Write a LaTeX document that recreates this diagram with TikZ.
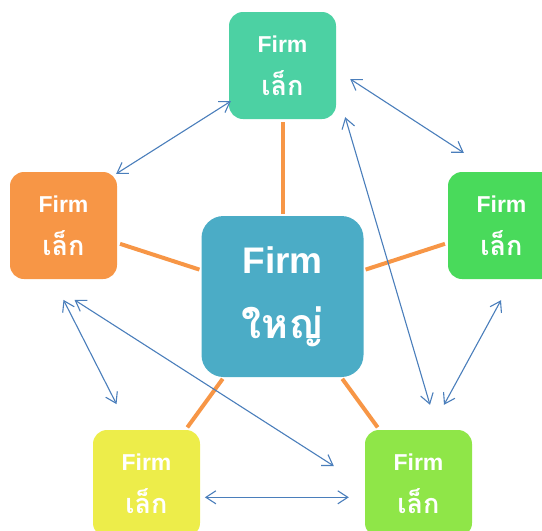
\documentclass[tikz,border=0pt]{standalone}
\usepackage{fontspec}
\setmainfont{Liberation Sans}
\newfontfamily\thaifont[Script=Thai]{Loma}
\usepackage{xcolor}
\usetikzlibrary{arrows.meta}
\definecolor{firmteal}{HTML}{4CD1A3}
\definecolor{firmorange}{HTML}{F79646}
\definecolor{firmgreen}{HTML}{49DA5B}
\definecolor{firmyellow}{HTML}{EDED4A}
\definecolor{firmlime}{HTML}{8FE648}
\definecolor{firmblue}{HTML}{4BACC6}
\definecolor{linkblue}{HTML}{4A7EBB}
\newcommand\smallthai[1]{{\thaifont\fontsize{27}{43}\selectfont #1}}
\newcommand\bigthai[1]{{\thaifont\fontsize{41}{65}\selectfont #1}}
\tikzset{>={Straight Barb[length=10pt,width=13pt]},
  firm/.style={rounded corners=14pt, minimum width=107pt, minimum height=107pt,
    inner sep=0pt, text=white, align=center, font=\fontsize{23}{43}\selectfont\bfseries},
  bigfirm/.style={firm, rounded corners=22pt, minimum width=162pt, minimum height=161pt,
    font=\fontsize{37}{65}\selectfont\bfseries},
  spoke/.style={draw=firmorange, line width=4pt, shorten <=3pt, shorten >=2pt},
  link/.style={draw=linkblue, line width=1.1pt, <->}}

\begin{document}
\begin{tikzpicture}[x=1pt, y=-1pt]
\useasboundingbox (0,0) rectangle (542,531);
\clip (0,0) rectangle (542,531);
\node[bigfirm, fill=firmblue] (firmC) at (282.5,296.5) {Firm\\\bigthai{ใหญ่}};
\node[firm, fill=firmteal] (firmT) at (282.5,65.5) {Firm\\\smallthai{เล็ก}};
\node[firm, fill=firmorange] (firmL) at (63.5,225.5) {Firm\\\smallthai{เล็ก}};
\node[firm, fill=firmgreen] (firmR) at (501.5,225.5) {Firm\\\smallthai{เล็ก}};
\node[firm, fill=firmyellow] (firmBL) at (146.5,483.5) {Firm\\\smallthai{เล็ก}};
\node[firm, fill=firmlime] (firmBR) at (418.5,483.5) {Firm\\\smallthai{เล็ก}};
\draw[spoke] (firmT) -- (firmC);
\draw[spoke] (firmL) -- (firmC);
\draw[spoke] (firmR) -- (firmC);
\draw[spoke] (firmBL) -- (firmC);
\draw[spoke] (firmBR) -- (firmC);
\draw[link] ([shift={(-1,2)}]firmL.north east) -- ([shift={(2,-18)}]firmT.south west);
\draw[link] ([shift={(14,13.5)}]firmT.east) -- ([shift={(16,-19)}]firmR.north west);
\draw[link] ([shift={(9,-2)}]firmT.south east) -- ([shift={(11.5,-25)}]firmBR.north);
\draw[link] ([shift={(-0.5,21)}]firmR.south) -- ([shift={(25.5,-25)}]firmBR.north);
\draw[link] ([shift={(0,20.7)}]firmL.south) -- ([shift={(23.7,-25.7)}]firmBL.north west);
\draw[link] ([shift={(11,20.7)}]firmL.south) -- ([shift={(-31,-17.5)}]firmBR.west);
\draw[link] ([shift={(4.7,13.8)}]firmBL.east) -- ([shift={(-16,13.8)}]firmBR.west);
\end{tikzpicture}
\end{document}
